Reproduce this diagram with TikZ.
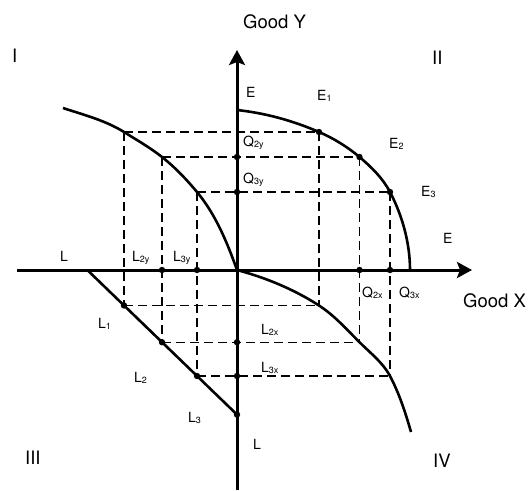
\documentclass[tikz,border=0pt]{standalone}
\usepackage{fontspec}
\setmainfont{TeX Gyre Heros}
\usetikzlibrary{arrows.meta}
\newcommand\lsub[1]{\raisebox{-1.5pt}{\fontsize{9}{9}\selectfont #1}}
\begin{document}
\begin{tikzpicture}[x=1pt,y=-1pt,
  axis/.style={line width=3pt},
  curve/.style={line width=2.6pt},
  guide/.style={line width=1.3pt, dash pattern=on 9pt off 5pt},
  big/.style={anchor=base west, inner sep=0pt, font=\fontsize{18.5}{20}\selectfont},
  lab/.style={anchor=base west, inner sep=0pt, font=\fontsize{14}{16}\selectfont},
  arr/.style={-{Stealth[length=15pt,width=16pt,inset=3pt]}}]
\useasboundingbox (0,0) rectangle (529,490);
% points
\coordinate (O) at (237,270);
\coordinate (xs) at (17,270); \coordinate (xe) at (472,270);
\coordinate (ys) at (237,490); \coordinate (ye) at (237,50);
\coordinate (Etop) at (237,110);
\coordinate (E1) at (319,132); \coordinate (E2) at (359.5,157); \coordinate (E3) at (390,192);
\coordinate (Eend) at (410,270);
\coordinate (Astart) at (63,108);
\coordinate (A1) at (124,132); \coordinate (A2) at (162,157); \coordinate (A3) at (197,192);
\coordinate (Ls) at (87.3,270); \coordinate (Le) at (237,414.6);
\coordinate (L1) at (124,305.5); \coordinate (L2) at (162,342.2); \coordinate (L3) at (197,376);
\coordinate (B1) at (319,305.5); \coordinate (B2) at (359.5,342.2); \coordinate (B3) at (390,376);
\coordinate (Bend) at (411,432);
\coordinate (Q2y) at (237,157); \coordinate (Q3y) at (237,192);
\coordinate (Q2x) at (359.5,270); \coordinate (Q3x) at (390,270);
\coordinate (L2y) at (162,270); \coordinate (L3y) at (197,270);
\coordinate (L2x) at (237,342.2); \coordinate (L3x) at (237,376);
% dashed guides
\draw[guide] (A1) -- (E1); \draw[guide] (A2) -- (E2); \draw[guide] (A3) -- (E3);
\draw[guide] (A1) -- (L1); \draw[guide] (A2) -- (L2); \draw[guide] (A3) -- (L3);
\draw[guide] (L1) -- (B1); \draw[guide] (L2) -- (B2); \draw[guide] (L3) -- (B3);
\draw[guide] (E1) -- (B1); \draw[guide] (E2) -- (B2); \draw[guide] (E3) -- (B3);
% curves
\draw[curve] (Etop) .. controls (265.4,113.1) and (292.7,120.6) .. (E1)
  .. controls (333.4,138.2) and (347.5,146.9) .. (E2)
  .. controls (371.4,167.1) and (382.8,178.2) .. (E3)
  .. controls (402.4,215.7) and (410,243.2) .. (Eend);
\draw[curve] (Astart) .. controls (83.8,114.9) and (105.4,120.4) .. (A1)
  .. controls (136.9,140.1) and (150.1,147.6) .. (A2)
  .. controls (174.9,167.2) and (186.4,179.3) .. (A3)
  .. controls (215.7,214.5) and (227.2,242.5) .. (O);
\draw[curve] (O) .. controls (265.8,277.7) and (294.0,289.3) .. (B1)
  .. controls (334.3,315.4) and (346.6,329.3) .. (B2)
  .. controls (370.2,352.9) and (382.9,362.6) .. (B3)
  .. controls (399.3,393.6) and (405.5,412.9) .. (Bend);
\draw[curve] (Ls) -- (Le);
% axes
\draw[axis, arr] (xs) -- (xe);
\draw[axis, arr] (ys) -- (ye);
% dots
\foreach \p in {E1,E2,E3,Q2y,Q3y,Q2x,Q3x,L2y,L3y,L1,L2,L3,Le,L2x,L3x}
  \fill (\p) circle (3.2pt);
% labels
\node[big] (gy) at (243,28) {Good Y};
\node[big] (gx) at (463,307) {Good X};
\node[big] (n1) at (12,62) {I};
\node[big] (n2) at (432,64) {II};
\node[big] (n3) at (25,464) {III};
\node[big] (n4) at (433,467) {IV};
\node[lab] (tE) at (246,97) {E};
\node[lab] (tE1) at (317,100) {E\lsub{1}};
\node[lab] (tE2) at (389,148) {E\lsub{2}};
\node[lab] (tE3) at (421,196) {E\lsub{3}};
\node[lab] (tEr) at (443,243) {E};
\node[lab] (tQ2y) at (243,146) {Q\lsub{2y}};
\node[lab] (tQ3y) at (243,183) {Q\lsub{3y}};
\node[lab] (tL) at (60,261) {L};
\node[lab] (tL2y) at (132,261) {L\lsub{2y}};
\node[lab] (tL3y) at (173,261) {L\lsub{3y}};
\node[lab] (tL1) at (98,328) {L\lsub{1}};
\node[lab] (tL2) at (134,382) {L\lsub{2}};
\node[lab] (tL3) at (188,422) {L\lsub{3}};
\node[lab] (tLb) at (253,449) {L};
\node[lab] (tL2x) at (261,334) {L\lsub{2x}};
\node[lab] (tL3x) at (261,372) {L\lsub{3x}};
\node[lab] (tQ2x) at (362,297) {Q\lsub{2x}};
\node[lab] (tQ3x) at (399,297) {Q\lsub{3x}};
\end{tikzpicture}
\end{document}
